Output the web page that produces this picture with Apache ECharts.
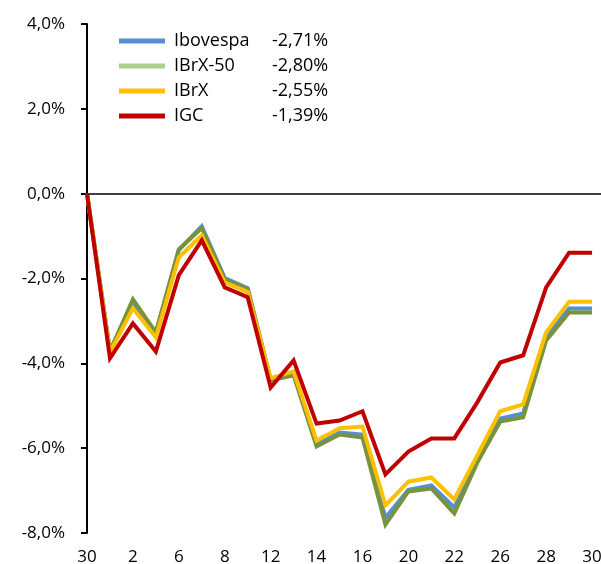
<!DOCTYPE html>
<html lang="pt">
<head>
    <meta charset="UTF-8">
    <title>Índices</title>
    <script src="https://cdn.jsdelivr.net/npm/echarts@6/dist/echarts.min.js"></script>
    <style>
        html, body { margin: 0; padding: 0; background: #fff; }
        #main { width: 601px; height: 564px; }
    </style>
</head>
<body>
<div id="main"></div>
<script type="text/javascript">
    // dias (eixo x)
    var days = ['30','1','2','5','6','7','8','9','12','13','14','15','16','19','20','21','22','23','26','27','28','29','30'];

    var ibovespa = [0, -3.70, -2.56, -3.29, -1.33, -0.77, -1.99, -2.23, -4.38, -4.23, -5.91, -5.63, -5.68,
        -7.64, -6.98, -6.88, -7.40, -6.27, -5.30, -5.18, -3.34, -2.71, -2.71];
    var ibrx50 = [0, -3.72, -2.49, -3.27, -1.31, -0.81, -2.02, -2.25, -4.40, -4.28, -5.96, -5.68, -5.75,
        -7.80, -7.02, -6.95, -7.54, -6.34, -5.37, -5.27, -3.46, -2.80, -2.80];
    var ibrx = [0, -3.75, -2.70, -3.39, -1.50, -0.98, -2.09, -2.32, -4.35, -4.19, -5.82, -5.53, -5.49,
        -7.35, -6.79, -6.69, -7.21, -6.17, -5.13, -4.97, -3.27, -2.55, -2.55];
    var igc = [0, -3.88, -3.06, -3.72, -1.92, -1.10, -2.21, -2.44, -4.57, -3.93, -5.42, -5.35, -5.13,
        -6.62, -6.08, -5.77, -5.77, -4.92, -3.98, -3.81, -2.21, -1.39, -1.39];

    var names = ['Ibovespa', 'IBrX-50', 'IBrX', 'IGC'];
    var finals = ['-2,71%', '-2,80%', '-2,55%', '-1,39%'];
    var lineColors = ['#558ED5', '#77933C', '#FFC000', '#C00000'];
    var legendColors = ['#558ED5', '#A9D08E', '#FFC000', '#C00000'];

    var font = '"Open Sans", "Noto Sans", sans-serif';

    function pairs(arr) {
        return arr.map(function (v, i) { return [i, v]; });
    }

    var myChart = echarts.init(document.getElementById('main'));

    var seriesData = [ibovespa, ibrx50, ibrx, igc];
    var series = seriesData.map(function (arr, k) {
        var s = {
            name: names[k],
            type: 'line',
            data: pairs(arr),
            symbol: 'none',
            color: lineColors[k],
            lineStyle: {width: 4, color: lineColors[k], cap: 'butt', join: 'miter'}
        };
        if (k === 0) {
            s.markLine = {
                silent: true,
                symbol: 'none',
                label: {show: false},
                lineStyle: {color: '#3f3f3f', width: 2, type: 'solid'},
                data: [{yAxis: 0}]
            };
        }
        return s;
    });

    myChart.setOption({
        animation: false,
        textStyle: {fontFamily: font},
        grid: {left: 87, right: 0, top: 24, bottom: 31, containLabel: false, outerBoundsMode: 'none'},
        legend: {
            orient: 'vertical',
            left: 119,
            top: 32,
            padding: 0,
            icon: 'rect',
            itemWidth: 46,
            itemHeight: 5,
            itemGap: 7,
            data: names.map(function (n, k) {
                return {name: n, itemStyle: {color: legendColors[k]}};
            }),
            formatter: function (n) {
                return '{n|' + n + '}{v|' + finals[names.indexOf(n)] + '}';
            },
            textStyle: {
                fontFamily: font,
                fontSize: 18,
                color: '#000',
                rich: {
                    n: {width: 98, fontSize: 18, fontFamily: font, color: '#000', lineHeight: 20, padding: [0, 0, 0, 4]},
                    v: {fontSize: 18, fontFamily: font, color: '#000', lineHeight: 20}
                }
            }
        },
        xAxis: {
            type: 'value',
            min: 0,
            max: 22.39,
            interval: 2,
            axisLine: {show: false},
            axisTick: {show: false},
            splitLine: {show: false},
            axisLabel: {
                showMaxLabel: false,
                margin: 16,
                fontSize: 17,
                fontFamily: font,
                color: '#000',
                formatter: function (v) {
                    return Number.isInteger(v) && days[v] !== undefined ? days[v] : '';
                }
            }
        },
        yAxis: {
            type: 'value',
            min: -8,
            max: 4,
            interval: 2,
            splitLine: {show: false},
            axisLine: {show: true, onZero: false, lineStyle: {color: '#000', width: 2}},
            axisTick: {show: true, length: 6, lineStyle: {color: '#000', width: 2}},
            axisLabel: {
                margin: 22,
                fontSize: 17,
                fontFamily: font,
                color: '#000',
                formatter: function (v) {
                    return v.toFixed(1).replace('.', ',') + '%';
                }
            }
        },
        series: series
    });
</script>
</body>
</html>
